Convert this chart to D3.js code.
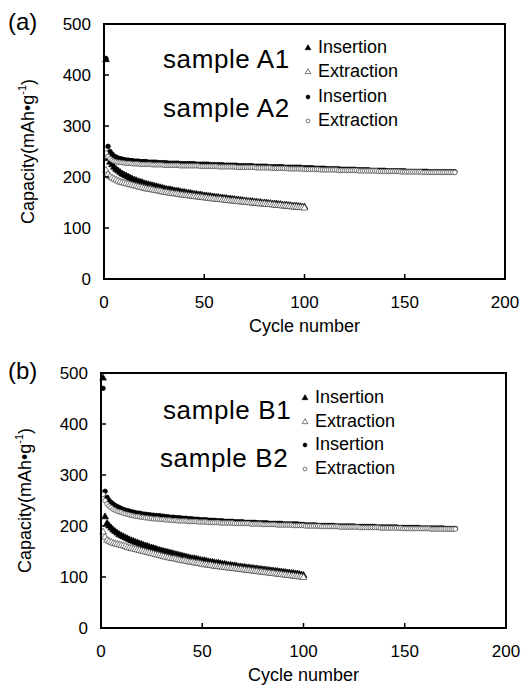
<!DOCTYPE html>
<html>
<head>
<meta charset="utf-8">
<script src="https://cdnjs.cloudflare.com/ajax/libs/d3/7.8.5/d3.min.js"></script>
<style>
  html, body { margin: 0; padding: 0; background: #fff; }
  svg { display: block; }
</style>
</head>
<body>
<div id="chart"></div>
<script>
// capacity per cycle (index 0 = cycle 1), mAh/g
const a1Insertion = [
  430, 236, 229, 224, 219, 215, 212, 209, 206, 204,
  202, 200, 198, 196, 194, 193, 191, 190, 189, 187,
  186, 185, 184, 183, 182, 181, 180, 179, 178, 177,
  176, 175, 175, 174, 173, 172, 172, 171, 170, 170,
  169, 168, 168, 167, 166, 166, 165, 165, 164, 163,
  163, 162, 162, 161, 161, 160, 160, 159, 159, 158,
  158, 157, 157, 156, 156, 155, 155, 154, 154, 153,
  153, 152, 152, 152, 151, 151, 150, 150, 149, 149,
  149, 148, 148, 147, 147, 147, 146, 146, 145, 145,
  145, 144, 144, 143, 143, 143, 142, 142, 141, 141
];
const a1Extraction = [
  213, 205, 201, 198, 196, 194, 192, 190, 189, 188,
  187, 186, 185, 184, 183, 182, 181, 180, 179, 178,
  177, 176, 176, 175, 174, 173, 173, 172, 171, 170,
  170, 169, 168, 168, 167, 167, 166, 165, 165, 164,
  164, 163, 163, 162, 162, 161, 161, 160, 160, 159,
  159, 158, 158, 157, 157, 156, 156, 156, 155, 155,
  154, 154, 153, 153, 153, 152, 152, 151, 151, 151,
  150, 150, 149, 149, 149, 148, 148, 147, 147, 147,
  146, 146, 146, 145, 145, 144, 144, 144, 143, 143,
  143, 142, 142, 141, 141, 141, 140, 140, 140, 139
];
const a2Insertion = [
  432, 260, 250, 245, 241, 239, 237, 236, 235, 234,
  233, 233, 232, 232, 231, 231, 231, 230, 230, 230,
  230, 229, 229, 229, 229, 229, 228, 228, 228, 228,
  228, 227, 227, 227, 227, 227, 227, 226, 226, 226,
  226, 226, 226, 226, 226, 225, 225, 225, 225, 225,
  225, 225, 224, 224, 224, 224, 224, 224, 224, 223,
  223, 223, 223, 223, 223, 223, 222, 222, 222, 222,
  222, 222, 222, 222, 221, 221, 221, 221, 221, 221,
  221, 220, 220, 220, 220, 220, 220, 220, 220, 219,
  219, 219, 219, 219, 219, 219, 219, 219, 218, 218,
  218, 218, 218, 218, 217, 217, 217, 217, 217, 217,
  216, 216, 216, 216, 216, 216, 216, 215, 215, 215,
  215, 215, 215, 215, 215, 214, 214, 214, 214, 214,
  214, 214, 213, 213, 213, 213, 213, 213, 213, 213,
  212, 212, 212, 212, 212, 212, 212, 212, 212, 212,
  211, 211, 211, 211, 211, 211, 211, 211, 211, 211,
  211, 210, 210, 210, 210, 210, 210, 210, 210, 210,
  210, 210, 210, 210, 210
];
const a2Extraction = [
  247, 240, 236, 233, 231, 230, 229, 229, 228, 228,
  227, 227, 227, 226, 226, 226, 226, 225, 225, 225,
  225, 225, 225, 224, 224, 224, 224, 224, 224, 223,
  223, 223, 223, 223, 223, 223, 223, 222, 222, 222,
  222, 222, 222, 222, 222, 222, 222, 221, 221, 221,
  221, 221, 221, 221, 221, 221, 220, 220, 220, 220,
  220, 220, 220, 220, 220, 219, 219, 219, 219, 219,
  219, 219, 219, 219, 219, 218, 218, 218, 218, 218,
  218, 218, 218, 217, 217, 217, 217, 217, 217, 217,
  217, 216, 216, 216, 216, 216, 216, 216, 216, 215,
  215, 215, 215, 215, 215, 215, 215, 214, 214, 214,
  214, 214, 214, 214, 214, 214, 213, 213, 213, 213,
  213, 213, 213, 213, 213, 213, 212, 212, 212, 212,
  212, 212, 212, 212, 212, 212, 211, 211, 211, 211,
  211, 211, 211, 211, 211, 211, 211, 210, 210, 210,
  210, 210, 210, 210, 210, 210, 210, 210, 209, 209,
  209, 209, 209, 209, 209, 209, 209, 209, 209, 209,
  209, 209, 209, 209, 209
];

const b1Insertion = [
  490, 218, 205, 200, 196, 192, 189, 186, 183, 181,
  179, 177, 175, 173, 171, 170, 168, 167, 165, 164,
  162, 161, 160, 158, 157, 156, 155, 153, 152, 151,
  150, 149, 148, 147, 146, 145, 144, 143, 142, 141,
  140, 139, 138, 137, 136, 136, 135, 134, 133, 132,
  132, 131, 130, 129, 129, 128, 127, 127, 126, 125,
  125, 124, 123, 123, 122, 122, 121, 120, 120, 119,
  119, 118, 118, 117, 117, 116, 116, 115, 115, 114,
  114, 113, 113, 112, 112, 111, 111, 110, 110, 109,
  109, 108, 108, 107, 107, 106, 106, 105, 104, 103
];
const b1Extraction = [
  188, 178, 172, 170, 168, 166, 165, 164, 163, 162,
  161, 160, 158, 157, 156, 155, 154, 153, 152, 151,
  150, 149, 148, 147, 146, 145, 144, 143, 142, 141,
  140, 139, 138, 137, 136, 136, 135, 134, 133, 132,
  132, 131, 130, 129, 129, 128, 127, 127, 126, 125,
  124, 124, 123, 123, 122, 121, 121, 120, 120, 119,
  119, 118, 118, 117, 117, 116, 116, 115, 115, 114,
  114, 113, 113, 112, 112, 111, 111, 110, 110, 109,
  109, 108, 108, 107, 107, 106, 106, 105, 105, 104,
  104, 103, 103, 102, 102, 101, 101, 100, 100, 99
];
const b2Insertion = [
  470, 268, 256, 250, 246, 243, 240, 238, 236, 234,
  232, 231, 230, 229, 228, 227, 226, 225, 225, 224,
  223, 223, 222, 222, 221, 221, 220, 220, 220, 219,
  219, 218, 218, 217, 217, 217, 216, 216, 216, 215,
  215, 215, 214, 214, 214, 213, 213, 213, 212, 212,
  212, 212, 211, 211, 211, 211, 210, 210, 210, 210,
  209, 209, 209, 209, 209, 208, 208, 208, 208, 208,
  207, 207, 207, 207, 207, 207, 206, 206, 206, 206,
  206, 206, 205, 205, 205, 205, 205, 205, 205, 204,
  204, 204, 204, 204, 204, 204, 204, 203, 203, 203,
  202, 202, 202, 202, 202, 202, 201, 201, 201, 201,
  201, 201, 201, 201, 201, 200, 200, 200, 200, 200,
  200, 200, 200, 200, 200, 199, 199, 199, 199, 199,
  199, 199, 199, 199, 199, 198, 198, 198, 198, 198,
  198, 198, 198, 198, 198, 198, 197, 197, 197, 197,
  197, 197, 197, 197, 197, 197, 197, 196, 196, 196,
  196, 196, 196, 196, 196, 196, 196, 196, 196, 195,
  195, 195, 195, 195, 195
];
const b2Extraction = [
  262, 250, 243, 239, 236, 233, 231, 229, 228, 227,
  225, 224, 223, 222, 221, 220, 219, 219, 218, 217,
  217, 216, 216, 215, 215, 214, 214, 214, 213, 213,
  213, 212, 212, 212, 211, 211, 211, 210, 210, 210,
  210, 210, 209, 209, 209, 209, 209, 208, 208, 208,
  208, 208, 207, 207, 207, 207, 207, 207, 206, 206,
  206, 206, 206, 206, 206, 205, 205, 205, 205, 205,
  205, 205, 205, 204, 204, 204, 204, 204, 204, 203,
  203, 203, 203, 203, 203, 203, 202, 202, 202, 202,
  202, 202, 202, 202, 201, 201, 201, 201, 201, 201,
  200, 200, 200, 200, 200, 200, 200, 200, 199, 199,
  199, 199, 199, 199, 199, 199, 199, 198, 198, 198,
  198, 198, 198, 198, 198, 198, 198, 197, 197, 197,
  197, 197, 197, 197, 197, 197, 197, 196, 196, 196,
  196, 196, 196, 196, 196, 196, 196, 196, 195, 195,
  195, 195, 195, 195, 195, 195, 195, 195, 195, 195,
  195, 195, 194, 194, 194, 194, 194, 194, 194, 194,
  194, 194, 194, 194, 194
];

const xTicks = [0, 50, 100, 150, 200];
const yTicks = [0, 100, 200, 300, 400, 500];
const legendLabels = ["Insertion", "Extraction", "Insertion", "Extraction"];

// 面板配置
const panels = [
  {
    tag: "(a)",
    samples: ["sample A1", "sample A2"],
    series: [a1Insertion, a1Extraction, a2Insertion, a2Extraction],
    left: 104, top: 24, width: 401, height: 255,
    sampleX: [163, 163], sampleY: [68, 117],
    legendX: 308, legendY: [53, 77, 102, 126]
  },
  {
    tag: "(b)",
    samples: ["sample B1", "sample B2"],
    series: [b1Insertion, b1Extraction, b2Insertion, b2Extraction],
    left: 101, top: 373, width: 405, height: 255,
    sampleX: [163, 160], sampleY: [419, 467],
    legendX: 305, legendY: [403, 427, 450, 474]
  }
];

const font = "'Liberation Sans', Arial, Helvetica, sans-serif";
const width = 531, height = 685;

const svg = d3.select("#chart").append("svg")
  .attr("width", width)
  .attr("height", height)
  .attr("viewBox", `0 0 ${width} ${height}`)
  .style("font-family", font);

svg.append("rect").attr("width", width).attr("height", height).attr("fill", "#fff");

// marker shapes: filled triangle, open triangle, filled circle, open circle
const markerStyles = [
  { type: d3.symbolTriangle, size: 20, fill: "#000", stroke: "#000" },
  { type: d3.symbolTriangle, size: 20, fill: "#fff", stroke: "#444" },
  { type: d3.symbolCircle, size: 17, fill: "#000", stroke: "#000" },
  { type: d3.symbolCircle, size: 17, fill: "#fff", stroke: "#444" }
];

function drawMarker(g, style, x, y, scale) {
  g.append("path")
    .attr("d", d3.symbol().type(style.type).size(style.size * (scale || 1))())
    .attr("transform", `translate(${x},${y})`)
    .attr("fill", style.fill)
    .attr("stroke", style.stroke)
    .attr("stroke-width", 0.7);
}

panels.forEach(p => {
  const x = d3.scaleLinear().domain([0, 200]).range([p.left, p.left + p.width]);
  const y = d3.scaleLinear().domain([0, 500]).range([p.top + p.height, p.top]);
  const bottom = p.top + p.height;

  // 数据点 (filled first, open on top)
  const order = [0, 2, 1, 3];
  order.forEach(si => {
    const g = svg.append("g");
    p.series[si].forEach((v, i) => drawMarker(g, markerStyles[si], x(i + 1), y(v)));
  });

  // frame
  svg.append("rect")
    .attr("x", p.left).attr("y", p.top)
    .attr("width", p.width).attr("height", p.height)
    .attr("fill", "none").attr("stroke", "#000").attr("stroke-width", 2);

  // y axis ticks (inward) and labels
  yTicks.forEach(t => {
    if (t > 0 && t < 500) {
      svg.append("line")
        .attr("x1", p.left).attr("x2", p.left + 5)
        .attr("y1", y(t)).attr("y2", y(t))
        .attr("stroke", "#000").attr("stroke-width", 1.5);
    }
    svg.append("text")
      .attr("x", p.left - 13).attr("y", y(t) + 6)
      .attr("text-anchor", "end")
      .attr("font-size", 17)
      .text(t);
  });

  // x axis ticks (inward) and labels
  xTicks.forEach(t => {
    if (t > 0 && t < 200) {
      svg.append("line")
        .attr("x1", x(t)).attr("x2", x(t))
        .attr("y1", bottom).attr("y2", bottom - 5)
        .attr("stroke", "#000").attr("stroke-width", 1.5);
    }
    svg.append("text")
      .attr("x", x(t)).attr("y", bottom + 29)
      .attr("text-anchor", "middle")
      .attr("font-size", 17)
      .text(t);
  });

  svg.append("text")
    .attr("x", x(100)).attr("y", bottom + 53)
    .attr("text-anchor", "middle")
    .attr("font-size", 18)
    .text("Cycle number");

  // y axis title
  const yt = svg.append("text")
    .attr("transform", `translate(${p.left - 70},${p.top + p.height / 2}) rotate(-90)`)
    .attr("text-anchor", "middle")
    .attr("font-size", 18);
  yt.append("tspan").text("Capacity(mAh\u2022g");
  yt.append("tspan").attr("font-size", 11).attr("dy", -8).text("-1");
  yt.append("tspan").attr("dy", 8).text(")");

  // panel tag
  svg.append("text")
    .attr("x", 8).attr("y", p.top + 6)
    .attr("font-size", 24)
    .text(p.tag);

  // sample names
  p.samples.forEach((s, i) => {
    svg.append("text")
      .attr("x", p.sampleX[i]).attr("y", p.sampleY[i])
      .attr("font-size", 26)
      .attr("letter-spacing", 0.6)
      .text(s);
  });

  // legend
  legendLabels.forEach((lab, i) => {
    drawMarker(svg, markerStyles[i], p.legendX, p.legendY[i] - 5, 0.7);
    svg.append("text")
      .attr("x", p.legendX + 10).attr("y", p.legendY[i])
      .attr("font-size", 18)
      .text(lab);
  });
});
</script>
</body>
</html>
